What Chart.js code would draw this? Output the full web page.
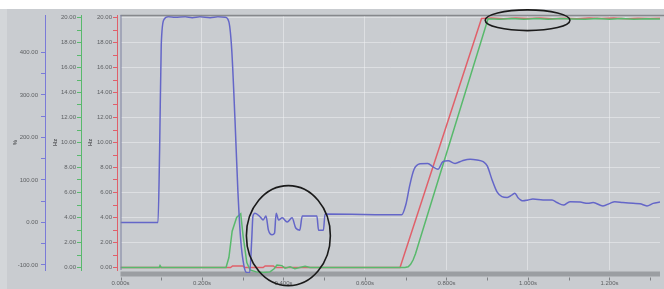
<!DOCTYPE html>
<html><head><meta charset="utf-8">
<script src="https://cdn.jsdelivr.net/npm/chart.js@4/dist/chart.umd.min.js"></script>
<style>html,body{margin:0;padding:0;background:#c9ccd0;}#wrap{width:664px;height:289px;}</style>
</head><body><div id="wrap"><canvas id="c" width="664" height="289"></canvas></div>
<script>
// ---- tick definitions ----
const timeTicks = [0,0.1,0.2,0.3,0.4,0.5,0.6,0.7,0.8,0.9,1.0,1.1,1.2,1.3];
const timeLabels = ["0.000s","","0.200s","","0.400s","","0.600s","","0.800s","","1.000s","","1.200s",""];
const hzTicks = [0,1,2,3,4,5,6,7,8,9,10,11,12,13,14,15,16,17,18,19,20];
const hzLabels = ["0.00","","2.00","","4.00","","6.00","","8.00","","10.00","","12.00","","14.00","","16.00","","18.00","","20.00"];
const pctTicks = [-100,-50,0,50,100,150,200,250,300,350,400];
const pctLabels = ["-100.00","","0.00","","100.00","","200.00","","300.00","","400.00"];

// ---- series (blue = %, red / green = Hz) ----
const blueTime = [0.000,0.092,0.096,0.100,0.107,0.117,0.134,0.159,0.176,0.195,0.220,0.239,0.257,0.266,0.273,0.281,0.288,0.295,0.303,0.310,0.317,0.322,0.325,0.330,0.343,0.350,0.357,0.363,0.372,0.378,0.382,0.388,0.397,0.409,0.421,0.430,0.440,0.446,0.482,0.486,0.498,0.502,0.690,0.700,0.710,0.720,0.735,0.754,0.767,0.779,0.791,0.804,0.821,0.838,0.858,0.875,0.890,0.900,0.912,0.924,0.936,0.949,0.961,0.968,0.975,0.988,1.000,1.012,1.037,1.059,1.071,1.087,1.103,1.128,1.147,1.160,1.184,1.201,1.213,1.233,1.258,1.275,1.292,1.307,1.324];
const bluePct  = [0,0,171,418,478,484,483,484,482,484,482,484,483,472,406,241,76,-41,-102,-118,-118,-41,15,22,13,6,15,-18,-29,-25,22,6,11,1,11,-13,-18,15,15,-18,-18,20,18,41,88,124,138,139,131,125,143,145,139,145,149,147,143,133,100,72,61,59,65,69,59,51,53,55,53,53,47,41,49,48,45,47,39,45,49,47,45,44,39,45,48];

const redTime = [0,0.270,0.275,0.300,0.305,0.350,0.355,0.375,0.380,0.686,0.886,0.910,0.940,0.970,1.000,1.030,1.060,1.090,1.120,1.150,1.180,1.210,1.240,1.270,1.300,1.324];
const redHz   = [0,0,0.12,0.12,0,0,0.12,0.12,0,0,19.92,19.95,19.90,19.95,19.92,19.96,19.90,19.94,19.90,19.95,19.92,19.96,19.90,19.94,19.92,19.94];

const greenTime = [0,0.095,0.097,0.100,0.259,0.266,0.274,0.285,0.295,0.301,0.310,0.318,0.333,0.350,0.367,0.377,0.384,0.396,0.404,0.416,0.428,0.440,0.453,0.465,0.698,0.706,0.712,0.718,0.724,0.730,0.902,0.930,0.960,0.990,1.020,1.050,1.080,1.110,1.140,1.170,1.200,1.230,1.260,1.290,1.324];
const greenHz   = [0,0,0.15,0,0,0.8,2.9,4.0,4.3,2.5,0.4,-0.2,-0.35,-0.4,-0.35,-0.1,0.2,0.15,-0.05,0.05,-0.1,0,0.1,0,0,0.06,0.25,0.6,1.1,1.74,19.9,19.86,19.92,19.87,19.91,19.86,19.92,19.88,19.86,19.91,19.87,19.92,19.86,19.9,19.88];

// ---- hand-drawn ellipse annotations (data units: time, Hz) ----
const ellipseT   = [0.412, 0.999];
const ellipseHz  = [2.55, 19.78];
const ellipseRT  = [0.103, 0.104];
const ellipseRHz = [4.0, 0.83];

const zip = (xs, ys) => xs.map((x, i) => ({x, y: ys[i]}));

const FONT = {family: "'Liberation Sans', Arial, sans-serif", size: 6};
const TXT = '#5e6063';
const GRID = 'rgba(236,238,241,0.55)';

const bgPlugin = {
  id: 'bg',
  beforeDraw(chart) {
    const c = chart.ctx;
    c.save();
    c.fillStyle = '#c9ccd0'; c.fillRect(0, 0, chart.width, chart.height);
    c.fillStyle = '#d3d6d9'; c.fillRect(0, 9, 7, chart.height - 9);
    c.fillStyle = '#ffffff'; c.fillRect(0, 0, chart.width, 9);
    c.restore();
  },
  beforeDatasetsDraw(chart) {
    const {ctx: c, chartArea: a} = chart;
    c.save();
    c.fillStyle = '#9b9ea2';
    c.fillRect(a.left, a.bottom + 1.5, a.right - a.left, 5);
    c.restore();
  },
  afterDraw(chart) {
    const {ctx: c, chartArea: a, scales} = chart;
    c.save();
    c.strokeStyle = '#86888c'; c.lineWidth = 1.5;
    c.beginPath(); c.moveTo(a.left, a.top + 0.5); c.lineTo(a.right + 4, a.top + 0.5); c.stroke();
    c.strokeStyle = '#7c80a0'; c.lineWidth = 1;
    c.beginPath(); c.moveTo(a.left + 0.5, a.top); c.lineTo(a.left + 0.5, a.bottom); c.stroke();
    c.strokeStyle = '#7d8084'; c.lineWidth = 1;
    scales.x.ticks.forEach(t => {
      const px = Math.round(scales.x.getPixelForValue(t.value)) + 0.5;
      c.beginPath(); c.moveTo(px, a.bottom + 7.5); c.lineTo(px, a.bottom + 10.5); c.stroke();
    });
    c.strokeStyle = '#1a1a1a'; c.lineWidth = 1.6;
    ellipseT.forEach((t, i) => {
      const cx = scales.x.getPixelForValue(t);
      const cy = scales.yHz.getPixelForValue(ellipseHz[i]);
      const rx = Math.abs(scales.x.getPixelForValue(t + ellipseRT[i]) - cx);
      const ry = Math.abs(scales.yHz.getPixelForValue(ellipseHz[i] + ellipseRHz[i]) - cy);
      c.beginPath(); c.ellipse(cx, cy, rx, ry, 0, 0, Math.PI * 2); c.stroke();
    });
    c.restore();
  }
};

const fixedTicks = (vals) => (scale) => { scale.ticks = vals.map(v => ({value: v})); };
const CLIP = {left: 0, right: 0, top: 3, bottom: 3};

new Chart(document.getElementById('c'), {
  type: 'scatter',
  data: {
    datasets: [
      {data: zip(blueTime, bluePct), yAxisID: 'yP', borderColor: '#6466c8', borderWidth: 1.5, showLine: true, pointRadius: 0, cubicInterpolationMode: 'monotone', order: 0, clip: CLIP},
      {data: zip(greenTime, greenHz), yAxisID: 'yHz', borderColor: '#58b96c', borderWidth: 1.5, showLine: true, pointRadius: 0, tension: 0, order: 1, clip: CLIP},
      {data: zip(redTime, redHz), yAxisID: 'yHz', borderColor: '#e0606a', borderWidth: 1.5, showLine: true, pointRadius: 0, tension: 0, order: 2, clip: CLIP}
    ]
  },
  options: {
    responsive: false, animation: false, devicePixelRatio: 1,
    layout: {padding: {top: 15, right: 4, bottom: 0, left: 0}},
    plugins: {legend: {display: false}, tooltip: {enabled: false}},
    scales: {
      x: {
        type: 'linear', min: 0, max: 1.324,
        afterBuildTicks: fixedTicks(timeTicks),
        afterFit: s => { s.height = 19; },
        border: {display: false},
        grid: {drawTicks: false, color: c => (c.tick && timeLabels[timeTicks.indexOf(c.tick.value)] && c.tick.value > 0) ? GRID : 'transparent'},
        ticks: {autoSkip: false, maxRotation: 0, padding: 10, font: FONT, color: TXT,
          callback: (v, i) => timeLabels[i]}
      },
      ySpacer: {
        type: 'linear', position: 'left', weight: 0, min: 0, max: 1,
        afterFit: s => { s.width = 3.5; },
        ticks: {display: false}, grid: {display: false, drawTicks: false}, border: {display: false}
      },
      yHz: {
        type: 'linear', position: 'left', weight: 1, min: -0.2, max: 20.2,
        afterBuildTicks: fixedTicks(hzTicks),
        afterFit: s => { s.width = 36; },
        border: {color: '#e0606a', width: 1},
        grid: {tickLength: 4, tickColor: '#e0606a', color: c => (c.tick && c.tick.value % 2 === 0 && c.tick.value > 0) ? GRID : 'transparent'},
        ticks: {padding: 1, font: FONT, color: TXT, callback: (v, i) => hzLabels[i]},
        title: {display: true, text: 'Hz', font: {family: FONT.family, size: 6, weight: 'bold'}, color: TXT, padding: {top: 5.4, bottom: 0}}
      },
      yG: {
        type: 'linear', position: 'left', weight: 2, min: -0.2, max: 20.2,
        afterBuildTicks: fixedTicks(hzTicks),
        afterFit: s => { s.width = 36; },
        border: {color: '#58b96c', width: 1},
        grid: {drawOnChartArea: false, tickLength: 4, tickColor: '#58b96c'},
        ticks: {padding: 1, font: FONT, color: TXT, callback: (v, i) => hzLabels[i]},
        title: {display: true, text: 'Hz', font: {family: FONT.family, size: 6, weight: 'bold'}, color: TXT, padding: {top: 6.4, bottom: 0}}
      },
      yP: {
        type: 'linear', position: 'left', weight: 3, min: -111.8, max: 488.2,
        afterBuildTicks: fixedTicks(pctTicks),
        afterFit: s => { s.width = 45; },
        border: {color: '#7a7ad8', width: 1},
        grid: {drawOnChartArea: false, tickLength: 4, tickColor: '#7a7ad8'},
        ticks: {padding: 3, font: FONT, color: TXT, callback: (v, i) => pctLabels[i]},
        title: {display: true, text: '%', font: {family: FONT.family, size: 6, weight: 'bold'}, color: TXT, padding: {top: 11.4, bottom: 0}}
      }
    }
  },
  plugins: [bgPlugin]
});
</script>
</body></html>
